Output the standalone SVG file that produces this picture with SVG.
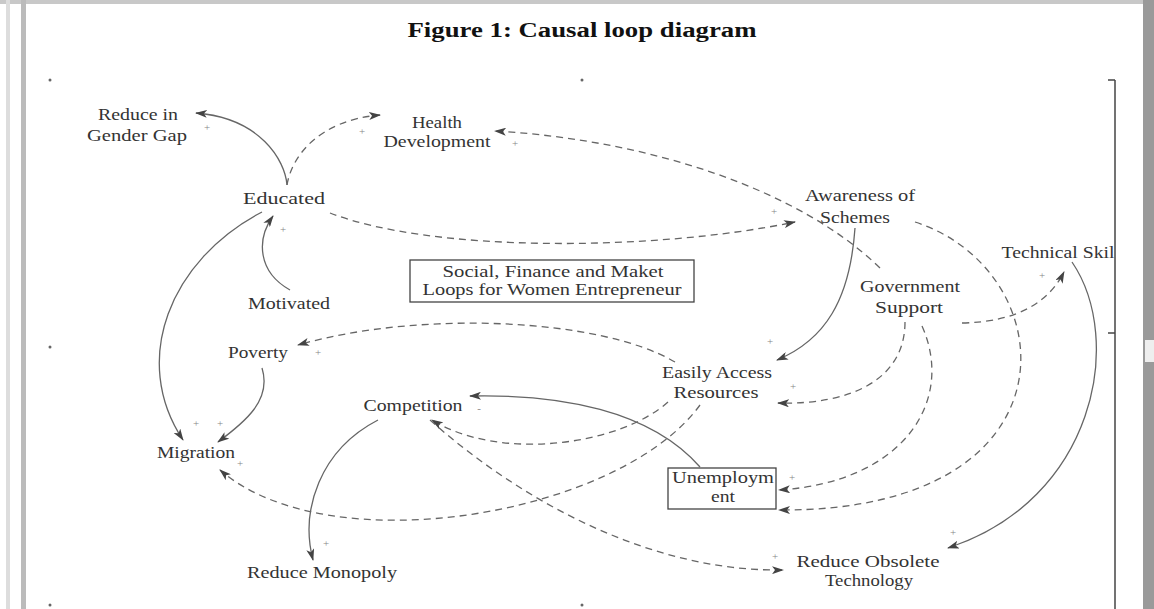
<svg xmlns="http://www.w3.org/2000/svg" width="1154" height="609" viewBox="0 0 1154 609">
<defs>
<marker id="ah" viewBox="0 0 12 8" refX="11" refY="4" markerWidth="12" markerHeight="8" markerUnits="userSpaceOnUse" orient="auto">
<path d="M0,0 L12,4 L0,8 L3,4 Z" fill="#444"/>
</marker>
<style>
.lbl{font-family:"Liberation Serif","Times New Roman",serif;font-size:16px;fill:#333;text-anchor:middle}
.title{font-family:"Liberation Serif","Times New Roman",serif;font-size:20px;font-weight:bold;fill:#111;text-anchor:middle}
.pol{font-family:"Liberation Serif","Times New Roman",serif;font-size:11px;fill:#888;text-anchor:middle}
.c{fill:none;stroke:#666;stroke-width:1.3;marker-end:url(#ah)}
.d{stroke-dasharray:7 5}
.box{fill:#fff;stroke:#444;stroke-width:1.3}
.frame{fill:#c8c8c8}
</style>
</defs>
<rect width="1154" height="609" fill="#fff"/>
<g id="frame">
<rect x="0" y="0" width="1154" height="4" class="frame"/>
<rect x="6" y="0" width="4" height="609" fill="#ddd"/>
<rect x="21" y="0" width="5" height="609" fill="#bbb"/>
<rect x="1143" y="0" width="11" height="609" fill="#9a9a9a"/>
<rect x="1145" y="340" width="9" height="22" fill="#eee"/>
<line x1="1115" y1="80" x2="1115" y2="609" stroke="#444" stroke-width="1.5"/>
<line x1="1108" y1="80" x2="1115" y2="80" stroke="#444" stroke-width="1.5"/>
<line x1="1108" y1="333" x2="1115" y2="333" stroke="#444" stroke-width="1.5"/>
<circle cx="50" cy="80" r="1.5" fill="#666"/>
<circle cx="582" cy="80" r="1.5" fill="#666"/>
<circle cx="50" cy="347" r="1.5" fill="#666"/>
<circle cx="50" cy="605" r="1.5" fill="#666"/>
<circle cx="582" cy="605" r="1.5" fill="#666"/>
</g>
<text class="title" x="582" y="37" textLength="349" lengthAdjust="spacingAndGlyphs">Figure 1: Causal loop diagram</text>
<g id="connectors">
<path class="c" d="M287,185 C285,160 260,118 196,113"/>
<path class="c d" d="M287,185 C292,155 320,120 380,115"/>
<path class="c d" d="M330,213 C430,252 650,252 795,222"/>
<path class="c d" d="M880,268 C800,190 650,140 495,131"/>
<path class="c" d="M290,290 C258,272 256,240 273,216"/>
<path class="c" d="M262,212 C170,260 130,360 183,440"/>
<path class="c" d="M262,368 C272,400 245,422 218,442"/>
<path class="c d" d="M675,362 C600,318 420,310 298,345"/>
<path class="c" d="M855,228 C850,300 825,340 777,360"/>
<path class="c d" d="M905,322 C905,380 850,405 778,403"/>
<path class="c d" d="M962,323 C1020,322 1050,300 1064,272"/>
<path class="c d" d="M922,326 C955,400 905,482 779,490"/>
<path class="c d" d="M915,222 C1065,270 1085,512 779,510"/>
<path class="c" d="M1072,262 C1125,340 1095,500 948,548"/>
<path class="c d" d="M700,405 C620,515 330,565 220,470"/>
<path class="c" d="M378,420 C320,450 300,510 313,560"/>
<path class="c d" d="M430,420 C520,500 650,572 783,570"/>
<path class="c" d="M700,467 C650,410 560,394 470,396"/>
<path class="c d" d="M668,402 C620,445 500,462 432,420"/>
</g>
<g id="polarity">
<text class="pol" x="207" y="131">+</text>
<text class="pol" x="362" y="135">+</text>
<text class="pol" x="515" y="147">+</text>
<text class="pol" x="283" y="233">+</text>
<text class="pol" x="774" y="215">+</text>
<text class="pol" x="1042" y="279">+</text>
<text class="pol" x="318" y="356">+</text>
<text class="pol" x="196" y="427">+</text>
<text class="pol" x="220" y="427">+</text>
<text class="pol" x="240" y="467">+</text>
<text class="pol" x="479" y="412">-</text>
<text class="pol" x="770" y="345">+</text>
<text class="pol" x="793" y="390">+</text>
<text class="pol" x="792" y="481">+</text>
<text class="pol" x="326" y="547">+</text>
<text class="pol" x="775" y="560">+</text>
<text class="pol" x="953" y="536">+</text>
</g>
<g id="n-gender"><text class="lbl" x="138" y="120" textLength="80" lengthAdjust="spacingAndGlyphs">Reduce in</text><text class="lbl" x="137" y="141" textLength="100" lengthAdjust="spacingAndGlyphs">Gender Gap</text></g>
<g id="n-health"><text class="lbl" x="437" y="128" textLength="50" lengthAdjust="spacingAndGlyphs">Health</text><text class="lbl" x="437" y="147" textLength="107" lengthAdjust="spacingAndGlyphs">Development</text></g>
<g id="n-educated"><text class="lbl" x="284" y="204" textLength="82" lengthAdjust="spacingAndGlyphs">Educated</text></g>
<g id="n-awareness"><text class="lbl" x="860" y="201" textLength="110" lengthAdjust="spacingAndGlyphs">Awareness of</text><text class="lbl" x="855" y="223" textLength="70" lengthAdjust="spacingAndGlyphs">Schemes</text></g>
<g id="n-technical"><text class="lbl" x="1058" y="258" textLength="113" lengthAdjust="spacingAndGlyphs">Technical Skil</text></g>
<g id="n-loops"><rect class="box" x="410" y="260" width="284" height="42"/><text class="lbl" x="553" y="277" textLength="221" lengthAdjust="spacingAndGlyphs">Social, Finance and Maket</text><text class="lbl" x="552" y="295" textLength="259" lengthAdjust="spacingAndGlyphs">Loops for Women Entrepreneur</text></g>
<g id="n-government"><text class="lbl" x="910" y="292" textLength="100" lengthAdjust="spacingAndGlyphs">Government</text><text class="lbl" x="909" y="313" textLength="68" lengthAdjust="spacingAndGlyphs">Support</text></g>
<g id="n-motivated"><text class="lbl" x="289" y="309" textLength="82" lengthAdjust="spacingAndGlyphs">Motivated</text></g>
<g id="n-poverty"><text class="lbl" x="258" y="358" textLength="60" lengthAdjust="spacingAndGlyphs">Poverty</text></g>
<g id="n-easily"><text class="lbl" x="717" y="378" textLength="110" lengthAdjust="spacingAndGlyphs">Easily Access</text><text class="lbl" x="716" y="398" textLength="85" lengthAdjust="spacingAndGlyphs">Resources</text></g>
<g id="n-competition"><text class="lbl" x="413" y="411" textLength="99" lengthAdjust="spacingAndGlyphs">Competition</text></g>
<g id="n-migration"><text class="lbl" x="196" y="458" textLength="78" lengthAdjust="spacingAndGlyphs">Migration</text></g>
<g id="n-unemployment"><rect class="box" x="668" y="468" width="108" height="41"/><text class="lbl" x="723" y="483" textLength="102" lengthAdjust="spacingAndGlyphs">Unemploym</text><text class="lbl" x="723" y="502" textLength="24" lengthAdjust="spacingAndGlyphs">ent</text></g>
<g id="n-monopoly"><text class="lbl" x="322" y="578" textLength="150" lengthAdjust="spacingAndGlyphs">Reduce Monopoly</text></g>
<g id="n-obsolete"><text class="lbl" x="868" y="567" textLength="143" lengthAdjust="spacingAndGlyphs">Reduce Obsolete</text><text class="lbl" x="869" y="586" textLength="88" lengthAdjust="spacingAndGlyphs">Technology</text></g>
</svg>
